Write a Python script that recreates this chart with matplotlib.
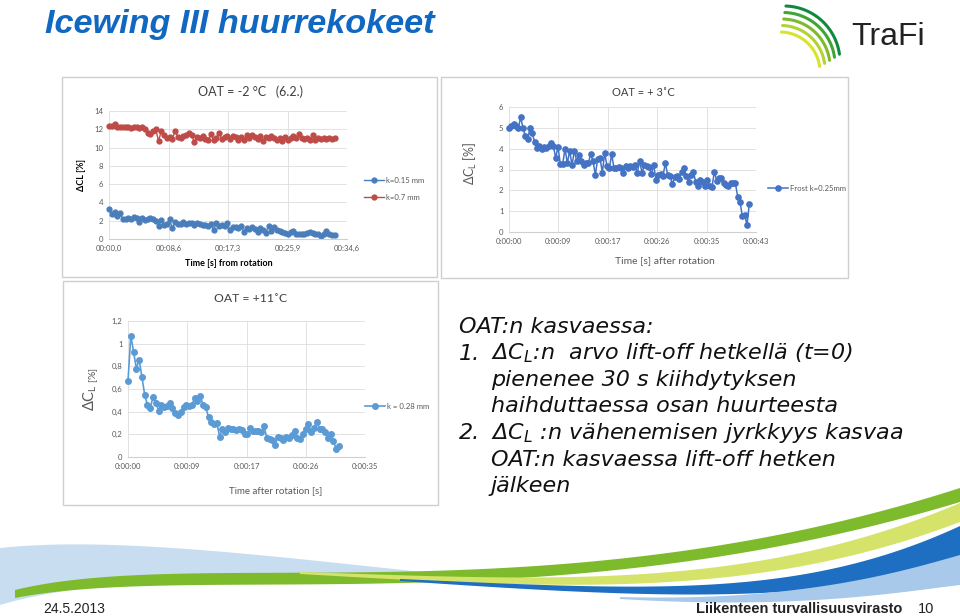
import numpy as np
import matplotlib
matplotlib.use('Agg')
import matplotlib.pyplot as plt
from matplotlib.patches import Rectangle

# --- chart 1: OAT = -2 C (6.2.) ---
dt1 = 0.4
k015_mm = [3.3, 2.7, 2.9, 2.5, 2.8, 2.2, 2.2, 2.3, 2.2, 2.4,
           2.3, 1.9, 2.3, 2.1, 2.2, 2.3, 2.2, 2.0, 1.4, 2.1,
           1.5, 1.6, 2.2, 1.2, 1.9, 1.6, 1.6, 1.9, 1.6, 1.7,
           1.7, 1.5, 1.8, 1.6, 1.5, 1.5, 1.4, 1.6, 1.0, 1.8,
           1.4, 1.5, 1.4, 1.7, 1.0, 1.3, 1.3, 1.2, 1.4, 0.8,
           1.2, 1.1, 1.3, 1.1, 0.8, 1.2, 1.0, 0.7, 1.4, 0.9,
           1.3, 1.0, 0.9, 0.8, 0.7, 0.6, 0.8, 0.9, 0.6, 0.5,
           0.6, 0.5, 0.7, 0.8, 0.7, 0.5, 0.6, 0.3, 0.6, 0.9,
           0.5, 0.4, 0.4]
k07_mm = [12.4, 12.4, 12.6, 12.3, 12.3, 12.3, 12.2, 12.2, 12.1, 12.2,
          12.2, 12.1, 12.2, 12.0, 11.6, 11.5, 11.8, 12.0, 10.7, 11.8,
          11.4, 11.0, 11.2, 10.9, 11.8, 11.2, 11.0, 11.3, 11.4, 11.6,
          11.4, 10.6, 11.2, 11.1, 11.3, 10.9, 10.8, 11.5, 10.8, 11.0,
          11.6, 10.9, 11.2, 11.3, 10.9, 11.3, 11.2, 10.8, 11.2, 10.8,
          11.4, 11.0, 11.4, 11.2, 10.9, 11.3, 10.7, 11.2, 11.1, 11.3,
          11.0, 10.8, 11.1, 10.7, 11.2, 10.8, 11.0, 11.3, 11.0, 11.5,
          11.0, 10.9, 11.1, 10.8, 11.4, 10.8, 11.0, 10.9, 11.1, 10.9,
          11.0, 10.9, 11.0]
x1_max = 34.6
x1_labels = ['00:00,0', '00:08,6', '00:17,3', '00:25,9', '00:34,6']

# --- chart 2: OAT = +3 C ---
dt2 = 0.41
frost_025 = [5.0, 5.1, 5.2, 5.1, 5.0, 5.5, 5.0, 4.6, 4.45, 5.0,
             4.75, 4.3, 4.05, 4.15, 4.0, 4.1, 4.05, 4.15, 4.25, 4.15,
             3.55, 4.1,
             3.25, 3.25, 4.0, 3.3, 3.9, 3.2, 3.9, 3.4, 3.7, 3.4,
             3.2, 3.3, 3.3, 3.75, 3.4, 2.75, 3.5, 3.55, 2.85, 3.8,
             3.15, 3.05, 3.75, 3.05, 3.05, 3.1, 3.05, 2.85, 3.15, 3.05,
             3.15, 3.1, 3.2, 2.85, 3.4, 2.85, 3.2, 3.15, 3.1, 2.8,
             3.2, 2.5, 2.75, 2.8, 2.7, 3.3, 2.75, 2.7, 2.3, 2.65,
             2.7, 2.55, 2.9, 3.05, 2.7, 2.4, 2.75, 2.9, 2.4, 2.2,
             2.5, 2.4, 2.2, 2.5, 2.2, 2.15, 2.9, 2.45, 2.6, 2.6,
             2.35, 2.25, 2.2, 2.35, 2.35, 2.35, 1.7, 1.45, 0.75, 0.8,
             0.35, 1.35]
x2_max = 43.4
x2_labels = ['0:00:00', '0:00:09', '0:00:17', '0:00:26', '0:00:35', '0:00:43']

# --- chart 3: OAT = +11 C ---
dt3 = 0.41
k028_mm = [0.67, 1.07, 0.93, 0.78, 0.86, 0.71, 0.55, 0.46, 0.43, 0.53,
           0.48, 0.41, 0.46, 0.44, 0.45, 0.48, 0.43, 0.39, 0.37, 0.40,
           0.44, 0.46, 0.45, 0.46, 0.52, 0.49, 0.54, 0.46, 0.44, 0.35,
           0.31, 0.29, 0.30, 0.18, 0.25, 0.22, 0.26, 0.25, 0.25, 0.24,
           0.25, 0.24, 0.20, 0.20, 0.26, 0.23, 0.23, 0.23, 0.22, 0.27,
           0.17, 0.16, 0.15, 0.11, 0.18, 0.17, 0.15, 0.18, 0.17, 0.19,
           0.23, 0.17, 0.16, 0.20, 0.25, 0.29, 0.22, 0.26, 0.31, 0.25,
           0.25, 0.22, 0.17, 0.20, 0.14, 0.07, 0.10]
x3_max = 35
x3_labels = ['0:00:00', '0:00:09', '0:00:17', '0:00:26', '0:00:35']
y3_labels = ['0', '0,2', '0,4', '0,6', '0,8', '1', '1,2']

# bullet text: (number, line)
bullet_lines = [
    ('', 'OAT:n kasvaessa:'),
    ('1.', 'ΔC$_\\mathit{L}$:n  arvo lift-off hetkellä (t=0)'),
    ('', 'pienenee 30 s kiihdytyksen'),
    ('', 'haihduttaessa osan huurteesta'),
    ('2.', 'ΔC$_\\mathit{L}$ :n vähenemisen jyrkkyys kasvaa'),
    ('', 'OAT:n kasvaessa lift-off hetken'),
    ('', 'jälkeen'),
]

W, H = 960, 616
plt.rcParams['font.family'] = ['Lato', 'DejaVu Sans']
fig = plt.figure(figsize=(W / 100, H / 100), dpi=100)
fig.patch.set_facecolor('white')

# background layer in pixel coordinates
bg = fig.add_axes([0, 0, 1, 1], zorder=0)
bg.set_xlim(0, W)
bg.set_ylim(H, 0)
bg.axis('off')


def bezier(p, n=200):
    t = np.linspace(0, 1, n)[:, None]
    p = np.asarray(p, float)
    return ((1 - t) ** 3) * p[0] + 3 * ((1 - t) ** 2) * t * p[1] + 3 * (1 - t) * t ** 2 * p[2] + t ** 3 * p[3]


def band(top, bot, color, alpha=1.0):
    a = bezier(top)
    b = bezier(bot)[::-1]
    poly = np.vstack([a, b])
    bg.fill(poly[:, 0], poly[:, 1], color=color, alpha=alpha, lw=0)


# decorative swooshes at the bottom
band([(0, 548), (120, 535), (300, 560), (480, 578)], [(0, 605), (100, 575), (300, 572), (480, 580)], '#C9DDF1')
band([(15, 590), (200, 545), (550, 620), (960, 488)], [(15, 598), (200, 562), (550, 626), (960, 502)], '#7DBB2D')
band([(300, 572), (550, 580), (750, 592), (960, 503)], [(300, 574), (550, 588), (750, 602), (960, 522)], '#D6E36B')
band([(400, 579), (650, 590), (800, 600), (960, 526)], [(400, 581), (650, 598), (800, 605), (960, 565)], '#1E6EC2')
band([(620, 597), (800, 602), (900, 572), (960, 555)], [(620, 599), (800, 610), (900, 592), (960, 585)], '#A8C9EA')

# TraFi logo
logo_cols = ['#0E8A3E', '#3FA535', '#7DBB2D', '#B3D233', '#D7E32E']
for i, c in enumerate(logo_cols):
    r = 56 - i * 4
    th = np.linspace(np.radians(8), np.radians(88), 60)
    bg.plot(784 + r * np.cos(th) - i * 1.0, 62 - r * np.sin(th) + i * 2.5, color=c, lw=2.2,
            solid_capstyle='round')
bg.text(851, 37, 'TraFi', fontsize=23, color='#222222', va='center', ha='left',
        family=['Liberation Sans', 'DejaVu Sans'])

# slide title
bg.text(45, 24, 'Icewing III huurrekokeet', fontsize=24.7, fontweight='bold', style='italic',
        color='#1168C0', va='center', ha='left',
        family=['Liberation Sans', 'DejaVu Sans'])

# chart frames
for (x0, y0, x1, y1) in [(62, 77, 437, 277), (441, 77, 848, 278), (63, 281, 438, 505)]:
    bg.add_patch(Rectangle((x0, y0), x1 - x0, y1 - y0, facecolor='white', edgecolor='#CFCFCF', lw=1.0))

# bullet text
for i, (num, line) in enumerate(bullet_lines):
    y = 327 + i * 26.5
    if num:
        bg.text(459, y, num, fontsize=16, style='italic', color='#111111',
                va='center', ha='left', family=['DejaVu Sans'])
    bg.text(459 if i == 0 else 491, y, line, fontsize=16, style='italic', color='#111111',
            va='center', ha='left', family=['DejaVu Sans'])

# footer
bg.text(43, 609, '24.5.2013', fontsize=10, color='#222222', va='center', ha='left',
        family=['Liberation Sans'])
bg.text(902, 609, 'Liikenteen turvallisuusvirasto', fontsize=10.5, fontweight='bold', color='#222222',
        va='center', ha='right', family=['Liberation Sans'])
bg.text(934, 609, '10', fontsize=10.5, color='#222222', va='center', ha='right',
        family=['Liberation Sans'])

# chart titles and x labels, placed on the chart frames
chart_titles = [('OAT = -2 °C   (6.2.)', 250, 92, 9.0), ('OAT = + 3˚C', 643, 92, 8.0),
                ('OAT = +11˚C', 251, 299, 8.8)]
for txt, x, y, fs in chart_titles:
    bg.text(x, y, txt, fontsize=fs, color='#404040', ha='center', va='center', zorder=3)
bg.text(229, 264, 'Time [s] from rotation', fontsize=6.5, fontweight='bold', color='black',
        ha='center', va='center', zorder=3)
bg.text(665, 261, 'Time [s] after rotation', fontsize=7.5, color='#595959',
        ha='center', va='center', zorder=3)
bg.text(276, 491, 'Time after rotation [s]', fontsize=7, color='#595959',
        ha='center', va='center', zorder=3)


def px_axes(l, t, r, b):
    return fig.add_axes([l / W, 1 - b / H, (r - l) / W, (b - t) / H], zorder=2)


def style_chart(ax, xmax, xlabels, ymax, ystep, ylabels=None):
    ax.set_facecolor('none')
    ax.set_xlim(0, xmax)
    ax.set_ylim(0, ymax)
    ax.set_xticks(np.linspace(0, xmax, len(xlabels)))
    ax.set_xticklabels(xlabels)
    yt = np.arange(0, ymax + ystep / 2, ystep)
    ax.set_yticks(yt)
    if ylabels is not None:
        ax.set_yticklabels(ylabels)
    else:
        ax.set_yticklabels([f'{v:g}' for v in yt])
    ax.grid(True, color='#DDDDDD', lw=0.6)
    ax.set_axisbelow(True)
    for s in ['top', 'right', 'left']:
        ax.spines[s].set_visible(False)
    ax.spines['bottom'].set_color('#D0D0D0')
    ax.tick_params(length=0, labelsize=5.6, labelcolor='#595959', pad=4)


# chart 1
ax1 = px_axes(109, 111, 347, 239)
t1 = np.arange(len(k015_mm)) * dt1
ax1.plot(t1, k015_mm, '-o', color='#4A7EBB', ms=3.5, lw=1.0, label='k=0.15 mm', clip_on=False)
ax1.plot(t1, k07_mm, '-o', color='#BE4B48', ms=3.5, lw=1.0, label='k=0.7 mm', clip_on=False)
style_chart(ax1, x1_max, x1_labels, 14, 2)
ax1.set_ylabel('ΔCL [%]', fontsize=6.5, fontweight='bold', labelpad=6)
ax1.legend(loc='center left', bbox_to_anchor=(1.04, 0.39), frameon=False, fontsize=5.6,
           labelcolor='#595959', handlelength=2.6, labelspacing=1.3, handletextpad=0.3)

# chart 2
ax2 = px_axes(509, 107, 756, 232)
t2 = np.arange(len(frost_025)) * dt2
ax2.plot(t2, frost_025, '-o', color='#4472C4', ms=3.8, lw=1.1, label='Frost k=0.25mm', clip_on=False)
style_chart(ax2, x2_max, x2_labels, 6, 1)
ax2.set_ylabel('ΔC$_\\mathregular{L}$ [%]', fontsize=9, color='#595959', labelpad=9)
ax2.yaxis.set_label_coords(-0.12, 0.55)
ax2.legend(loc='center left', bbox_to_anchor=(1.02, 0.35), frameon=False, fontsize=5.6,
           labelcolor='#595959', handlelength=2.6, handletextpad=0.3)

# chart 3
ax3 = px_axes(128, 321, 365, 457)
t3 = np.arange(len(k028_mm)) * dt3
ax3.plot(t3, k028_mm, '-o', color='#5B9BD5', ms=4.0, lw=1.2, label='k = 0.28 mm', clip_on=False)
style_chart(ax3, x3_max, x3_labels, 1.2, 0.2, y3_labels)
ax3.set_ylabel('ΔC$_\\mathregular{L\\ [\\%]}$', fontsize=10.5, color='#595959', labelpad=8)
ax3.legend(loc='center left', bbox_to_anchor=(0.97, 0.37), frameon=False, fontsize=5.6,
           labelcolor='#595959', handlelength=2.6, handletextpad=0.3)

fig.savefig('out.png', dpi=100)
